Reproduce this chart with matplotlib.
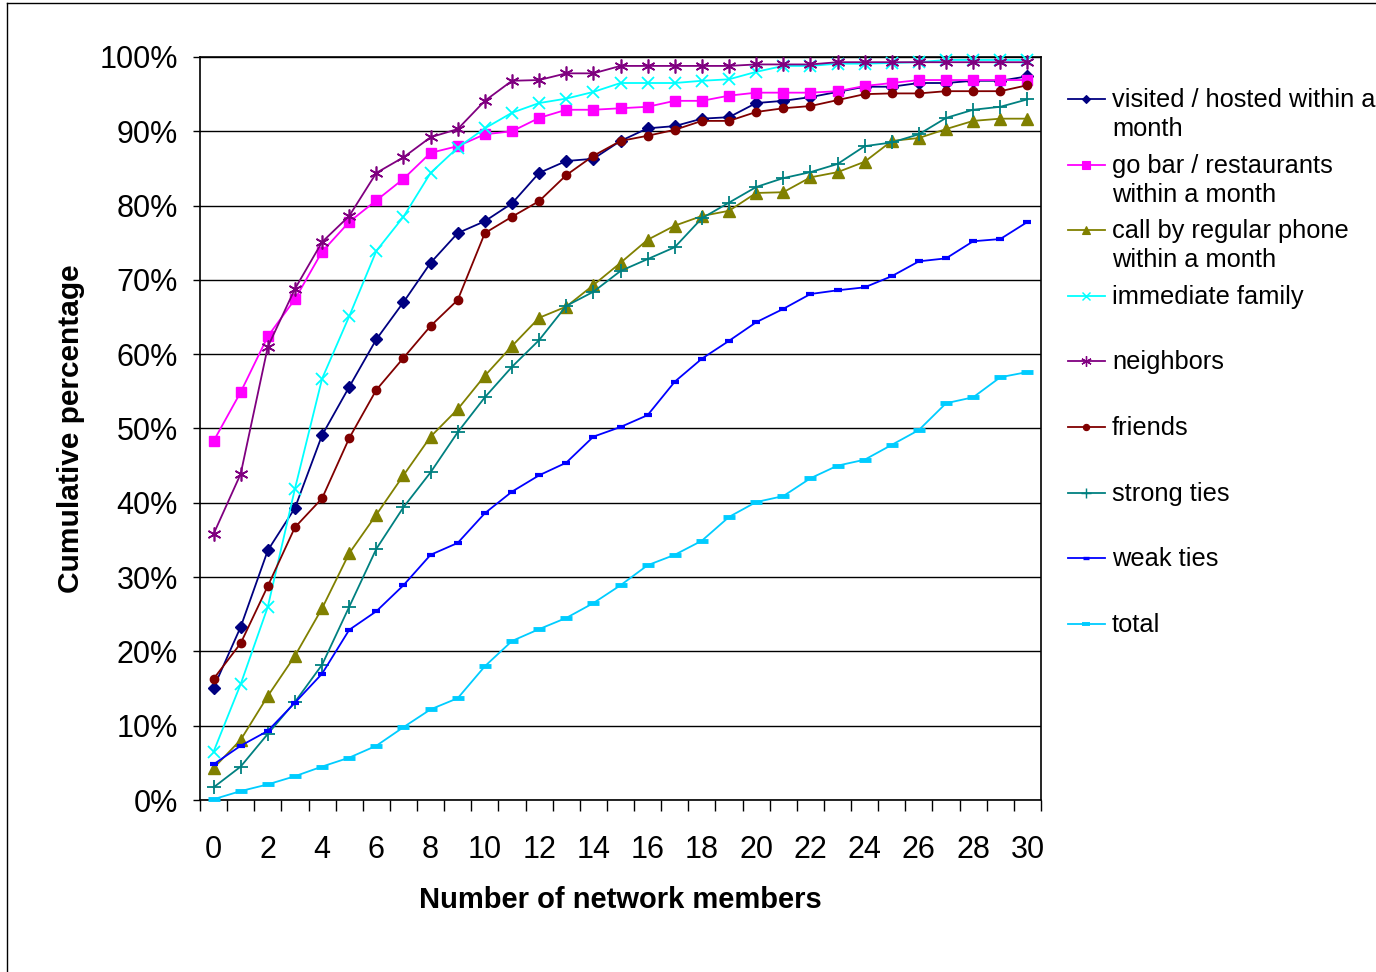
import matplotlib
matplotlib.use("Agg")
import matplotlib.pyplot as plt
from matplotlib.lines import Line2D
import numpy as np

plt.rcParams['font.family'] = ['Liberation Sans', 'DejaVu Sans']

members = list(range(31))

visited = [15.1, 23.3, 33.6, 39.3, 49.1, 55.6, 62.0, 67.0, 72.3, 76.3, 77.9, 80.3, 84.4, 86.0, 86.3,
           88.7, 90.4, 90.7, 91.7, 91.9, 93.8, 94.1, 94.6, 95.3, 96.0, 96.0, 96.5, 96.5, 96.8, 96.8, 97.4]
go_bar = [48.3, 54.9, 62.4, 67.4, 73.8, 77.8, 80.7, 83.6, 87.1, 88.0, 89.6, 90.0, 91.8, 92.9, 92.9,
          93.1, 93.3, 94.1, 94.1, 94.8, 95.2, 95.2, 95.2, 95.4, 96.1, 96.5, 96.9, 96.9, 96.9, 96.9, 96.9]
phone = [4.3, 8.1, 14.0, 19.4, 25.8, 33.2, 38.4, 43.7, 48.9, 52.6, 57.1, 61.1, 64.9, 66.4, 69.3,
         72.3, 75.4, 77.3, 78.6, 79.3, 81.7, 81.8, 83.8, 84.5, 85.9, 88.7, 89.1, 90.3, 91.4, 91.7, 91.7]
family = [6.5, 15.6, 26.0, 41.9, 56.7, 65.1, 73.9, 78.5, 84.4, 87.8, 90.4, 92.5, 93.8, 94.4, 95.3,
          96.5, 96.5, 96.5, 96.8, 97.0, 98.0, 98.8, 98.8, 99.1, 99.1, 99.2, 99.3, 99.6, 99.6, 99.6, 99.6]
neighbors = [35.8, 43.9, 61.0, 68.8, 75.1, 78.6, 84.4, 86.5, 89.2, 90.3, 94.1, 96.8, 96.9, 97.8, 97.8,
             98.8, 98.8, 98.8, 98.8, 98.8, 99.0, 99.0, 99.0, 99.3, 99.3, 99.3, 99.3, 99.3, 99.3, 99.3, 99.3]
friends = [16.3, 21.1, 28.8, 36.7, 40.6, 48.7, 55.2, 59.5, 63.8, 67.3, 76.3, 78.5, 80.6, 84.1, 86.7,
           88.7, 89.4, 90.2, 91.4, 91.4, 92.6, 93.1, 93.4, 94.2, 95.0, 95.1, 95.1, 95.4, 95.4, 95.4, 96.2]
strong = [1.7, 4.5, 8.9, 13.2, 18.2, 26.0, 33.8, 39.4, 44.1, 49.5, 54.2, 58.3, 61.9, 66.5, 68.4,
          71.2, 72.8, 74.4, 78.3, 80.4, 82.5, 83.7, 84.5, 85.6, 88.0, 88.5, 89.6, 91.8, 92.9, 93.3, 94.3]
weak = [4.8, 7.3, 9.3, 13.1, 17.0, 22.9, 25.4, 28.9, 33.0, 34.6, 38.6, 41.5, 43.7, 45.4, 48.9,
        50.2, 51.8, 56.3, 59.4, 61.8, 64.3, 66.1, 68.1, 68.6, 69.0, 70.5, 72.5, 72.9, 75.2, 75.5, 77.8]
total = [0.1, 1.2, 2.1, 3.2, 4.5, 5.7, 7.3, 9.8, 12.2, 13.7, 18.0, 21.4, 23.0, 24.5, 26.5,
         28.9, 31.6, 33.0, 34.9, 38.1, 40.1, 40.9, 43.3, 45.0, 45.8, 47.8, 49.8, 53.4, 54.2, 56.9, 57.6]

labels = ["visited / hosted within a\nmonth", "go bar / restaurants\nwithin a month",
          "call by regular phone\nwithin a month", "immediate family", "neighbors",
          "friends", "strong ties", "weak ties", "total"]
series = [visited, go_bar, phone, family, neighbors, friends, strong, weak, total]
colors = ["#000080", "#FF00FF", "#808000", "#00FFFF", "#800080", "#800000", "#008080", "#0000FF", "#00CCFF"]
markers = ["D", "s", "^", "x", (6, 2, 0), "o", "+", "_", "_"]
msizes = [6, 7, 8, 8, 10, 6, 10, 6, 8]
mews = [1, 1, 1, 1.3, 1.2, 1, 1.3, 3, 3.5]

fig = plt.figure(figsize=(13.76, 9.72), dpi=100)
ax = fig.add_axes([200 / 1376, 1 - 800 / 972, 841 / 1376, 743 / 972])

for ys, c, m, ms, mew in zip(series, colors, markers, msizes, mews):
    ax.plot(members, ys, color=c, lw=1.3, marker=m, markersize=ms,
            markerfacecolor=c, markeredgecolor=c, markeredgewidth=mew, clip_on=False, zorder=3)

ax.set_xlim(-0.5, 30.5)
ax.set_ylim(0, 100)
ax.set_yticks(np.arange(0, 101, 10))
ax.set_yticklabels([f"{v}%" for v in range(0, 101, 10)], fontsize=22)
ax.tick_params(axis='y', direction='out', length=5, width=1, pad=11)
ax.set_xticks(np.arange(-0.5, 31, 1))
ax.set_xticklabels([])
ax.tick_params(axis='x', which='major', direction='out', length=8, width=1)
ax.set_xticks(np.arange(0, 31, 2), minor=True)
ax.set_xticklabels([str(v) for v in range(0, 31, 2)], minor=True, fontsize=22)
ax.tick_params(axis='x', which='minor', length=0, pad=25)
ax.grid(axis='y', color='black', lw=1)
ax.set_axisbelow(True)
for s in ax.spines.values():
    s.set_linewidth(1.2)

ax.set_xlabel("Number of network members", fontsize=21, fontweight='bold', labelpad=15)
ax.set_ylabel("Cumulative percentage", fontsize=21.5, fontweight='bold', labelpad=10)

# legend drawn by hand, Excel style with even spacing
for i, (lab, c, m, ms, mew) in enumerate(zip(labels, colors, markers, msizes, mews)):
    yc = 1 - (99 + 65.6 * i) / 972
    fig.add_artist(Line2D([1068 / 1376, 1105 / 1376], [yc, yc], color=c, lw=1.3))
    fig.add_artist(Line2D([1086 / 1376], [yc], color=c, marker=m, markersize=ms * 0.75,
                          markerfacecolor=c, markeredgecolor=c, markeredgewidth=mew * 0.8))
    fig.text(1112 / 1376, yc + 11 / 972, lab, fontsize=18.3, va='top', ha='left', linespacing=1.27)

# outer chart border
fig.add_artist(Line2D([7 / 1376, 7 / 1376], [0, 1 - 3 / 972], color='black', lw=1))
fig.add_artist(Line2D([7 / 1376, 1], [1 - 3 / 972, 1 - 3 / 972], color='black', lw=1))

fig.savefig("out.png", dpi=100)
